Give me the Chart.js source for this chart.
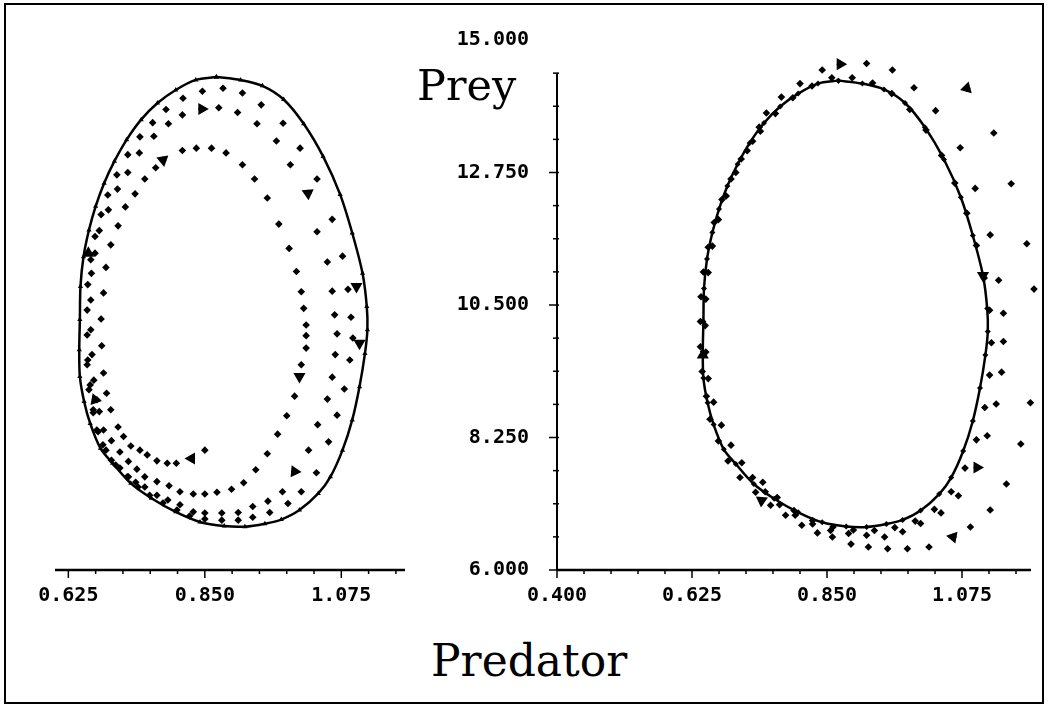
<!DOCTYPE html>
<html>
<head>
<meta charset="utf-8">
<title>Predator / Prey phase plane</title>
<script src="https://cdn.jsdelivr.net/npm/chart.js@4.4.1/dist/chart.umd.min.js"></script>
<style>
    html, body { margin: 0; padding: 0; background: #fff; }
    #page { position: relative; width: 1050px; height: 707px; overflow: hidden; background: #fff; }
    #frame { position: absolute; left: 4px; top: 3px; width: 1040px; height: 701px; border: 2px solid #000; box-sizing: border-box; }
    .panel { position: absolute; top: 0; height: 610px; }
    #leftPanel { left: 0; width: 420px; }
    #rightPanel { left: 420px; width: 630px; }
    .axisTitle { position: absolute; font-family: 'DejaVu Serif', serif; color: #000; line-height: 1; white-space: nowrap; }
    #preyTitle { left: 417px; top: 64px; font-size: 43px; }
    #predatorTitle { left: 431px; top: 639px; font-size: 44px; }
</style>
</head>
<body>
<div id="page">
    <div id="frame"></div>
    <div class="panel" id="leftPanel"><canvas id="leftChart"></canvas></div>
    <div class="panel" id="rightPanel"><canvas id="rightChart"></canvas></div>
    <div class="axisTitle" id="preyTitle">Prey</div>
    <div class="axisTitle" id="predatorTitle">Predator</div>
</div>
<script>
// ===== Tick labels =====

var leftPredatorMajor = [0.625, 0.850, 1.075];
var rightPredatorMajor = [0.400, 0.625, 0.850, 1.075];
var preyMajor = [6.000, 8.250, 10.500, 12.750, 15.000];
var predatorMinorStep = 0.045;
var preyMinorStep = 0.5625;
var preyAxisTop = 14.4375;

// ===== Limit cycle (solid line), clockwise from the top =====

var cycleX = [0.869, 0.909, 0.945, 0.980, 1.013, 1.045, 1.073, 1.093, 1.110, 1.117, 1.118, 1.114, 1.105, 1.093, 1.077,
    1.057, 1.037, 1.006, 0.976, 0.949, 0.916, 0.882, 0.842, 0.802, 0.762, 0.728, 0.698, 0.678, 0.661, 0.651,
    0.644, 0.643, 0.644, 0.645, 0.650, 0.659, 0.670, 0.684, 0.701, 0.721, 0.745, 0.772, 0.802, 0.835];
var cycleY = [14.31, 14.26, 14.16, 13.93, 13.52, 12.97, 12.33, 11.68, 11.00, 10.44, 10.05, 9.65, 9.09, 8.53, 8.02,
    7.57, 7.29, 7.01, 6.85, 6.78, 6.73, 6.74, 6.81, 6.98, 7.21, 7.46, 7.80, 8.05, 8.47, 8.84,
    9.26, 9.71, 10.22, 10.78, 11.28, 11.73, 12.13, 12.52, 12.89, 13.25, 13.59, 13.87, 14.09, 14.26];

// ===== Left plot: trajectory starting inside, spiralling out =====

var leftPathX = [0.850, 0.828, 0.803, 0.788, 0.771, 0.755, 0.743, 0.728, 0.716, 0.707, 0.695, 0.688, 0.683, 0.680, 0.679,
    0.683, 0.687, 0.695, 0.707, 0.719, 0.735, 0.751, 0.769, 0.781, 0.813, 0.836, 0.861, 0.885, 0.912, 0.932,
    0.953, 0.972, 0.989, 1.001, 1.009, 1.013, 1.017, 1.017, 1.017, 1.009, 1.006, 0.998, 0.985, 0.970, 0.953,
    0.934, 0.914, 0.894, 0.870, 0.850, 0.831, 0.809, 0.791, 0.771, 0.751, 0.738, 0.724, 0.710, 0.696, 0.683,
    0.676, 0.672, 0.667, 0.664, 0.662, 0.662, 0.663, 0.669, 0.676, 0.691, 0.706, 0.723, 0.742, 0.766, 0.790,
    0.813, 0.845, 0.873, 0.904, 0.936, 0.968, 0.991, 1.020, 1.035, 1.052, 1.060, 1.064, 1.068, 1.065, 1.060,
    1.052, 1.036, 1.021, 0.998, 0.978, 0.954, 0.929, 0.905, 0.878, 0.850, 0.831, 0.809, 0.789, 0.771, 0.751,
    0.736, 0.724, 0.710, 0.696, 0.682, 0.672, 0.666, 0.661, 0.657, 0.656, 0.656, 0.657, 0.662, 0.669, 0.679,
    0.690, 0.705, 0.723, 0.743, 0.764, 0.786, 0.814, 0.846, 0.880, 0.912, 0.943, 0.979, 1.007, 1.035, 1.060,
    1.077, 1.086, 1.091, 1.094, 1.089, 1.080, 1.068, 1.054, 1.034, 1.009, 0.987, 0.957, 0.929, 0.905, 0.878,
    0.850, 0.825, 0.804, 0.781, 0.759, 0.740, 0.722, 0.703, 0.687, 0.674, 0.666, 0.659, 0.656];
var leftPathY = [8.02, 7.88, 7.80, 7.80, 7.84, 7.94, 8.02, 8.09, 8.25, 8.41, 8.70, 8.98, 9.32, 9.78, 10.23,
    10.67, 11.10, 11.48, 11.80, 12.12, 12.34, 12.59, 12.78, 12.91, 13.07, 13.11, 13.11, 13.03, 12.83, 12.59,
    12.27, 11.83, 11.42, 11.03, 10.69, 10.41, 10.13, 9.95, 9.74, 9.46, 9.26, 8.93, 8.60, 8.29, 7.96,
    7.69, 7.47, 7.36, 7.31, 7.28, 7.28, 7.32, 7.42, 7.49, 7.57, 7.70, 7.83, 7.99, 8.18, 8.36,
    8.67, 8.87, 9.20, 9.63, 10.05, 10.55, 11.00, 11.34, 11.72, 12.07, 12.42, 12.70, 13.03, 13.31, 13.52,
    13.67, 13.77, 13.79, 13.71, 13.52, 13.23, 12.83, 12.35, 11.70, 11.19, 10.70, 10.30, 9.98, 9.63, 9.25,
    8.88, 8.45, 8.02, 7.66, 7.32, 7.16, 7.07, 6.97, 6.96, 6.96, 6.98, 7.10, 7.18, 7.26, 7.40,
    7.48, 7.57, 7.72, 7.85, 8.11, 8.36, 8.70, 9.12, 9.54, 9.96, 10.38, 10.81, 11.23, 11.62, 11.99,
    12.32, 12.66, 13.00, 13.30, 13.54, 13.76, 13.95, 14.07, 14.12, 14.04, 13.84, 13.53, 13.11, 12.59, 11.91,
    11.29, 10.73, 10.26, 9.91, 9.54, 9.05, 8.61, 8.16, 7.64, 7.32, 7.12, 6.97, 6.89, 6.84, 6.84,
    6.86, 6.91, 7.01, 7.13, 7.26, 7.40, 7.57, 7.77, 8.02, 8.33, 8.65, 9.04, 9.46];

var leftArrowX = [0.828, 0.781, 1.006, 0.845, 1.020, 0.998, 0.658, 0.669, 1.100, 1.105];
var leftArrowY = [7.88, 12.91, 9.26, 13.77, 12.35, 7.66, 11.34, 8.87, 10.78, 9.82];
var leftArrowAngle = [270, 50, 180, 90, 175, 215, 0, 340, 180, 180];

// ===== Right plot: trajectory starting outside, spiralling in =====

var rightPathX = [1.083, 1.128, 1.157, 1.183, 1.195, 1.201, 1.201, 1.189, 1.173, 1.149, 1.122, 1.089, 1.060, 1.020, 0.984,
    0.951, 0.919, 0.890, 0.859, 0.834, 0.808, 0.781, 0.756, 0.731, 0.705, 0.685, 0.669, 0.655, 0.649, 0.642,
    0.639, 0.639, 0.640, 0.644, 0.652, 0.662, 0.675, 0.690, 0.707, 0.726, 0.737, 0.749, 0.774, 0.805, 0.842,
    0.872, 0.916, 0.959, 0.995, 1.031, 1.072, 1.097, 1.122, 1.136, 1.144, 1.144, 1.141, 1.132, 1.117, 1.100,
    1.069, 1.040, 1.006, 0.976, 0.946, 0.916, 0.886, 0.856, 0.826, 0.797, 0.771, 0.747, 0.726,
    0.708, 0.690, 0.674, 0.661, 0.652, 0.648, 0.647, 0.648, 0.652, 0.659, 0.669, 0.682, 0.698, 0.717, 0.739,
    0.764, 0.793, 0.825, 0.858, 0.892, 0.926, 0.958, 0.988, 1.015, 1.041, 1.063, 1.083, 1.099, 1.112, 1.121,
    1.124, 1.121, 1.113, 1.099, 1.080, 1.057, 1.029, 0.997, 0.963, 0.929, 0.894, 0.860, 0.826, 0.795, 0.767, 0.743];
var rightPathY = [14.18, 13.42, 12.56, 11.54, 10.77, 10.08, 9.43, 8.84, 8.14, 7.46, 7.02, 6.73, 6.56, 6.39, 6.36,
    6.36, 6.39, 6.44, 6.56, 6.63, 6.76, 6.93, 7.10, 7.32, 7.57, 7.85, 8.19, 8.56, 8.95, 9.37,
    9.79, 10.22, 10.64, 11.06, 11.48, 11.90, 12.29, 12.64, 12.98, 13.28, 13.52, 13.76, 14.03, 14.26, 14.49,
    14.59, 14.60, 14.49, 14.19, 13.80, 13.17, 12.48, 11.69, 10.92, 10.36, 9.88, 9.36, 8.82, 8.28, 7.74,
    7.26, 6.97, 6.79, 6.65, 6.56, 6.59, 6.62, 6.67, 6.78, 6.93, 7.11, 7.33, 7.57,
    7.82, 8.12, 8.46, 8.85, 9.25, 9.70, 10.15, 10.60, 11.05, 11.50, 11.95, 12.35, 12.75, 13.12, 13.45,
    13.75, 14.02, 14.22, 14.36, 14.36, 14.27, 14.09, 13.82, 13.47, 13.04, 12.57, 12.06, 11.51, 10.96, 10.41,
    9.86, 9.31, 8.76, 8.21, 7.73, 7.33, 7.03, 6.83, 6.72, 6.67, 6.68, 6.73, 6.84, 7.01, 7.23, 7.49];

var rightArrowX = [1.083, 1.060, 0.872, 1.100, 1.110, 0.643, 0.741];
var rightArrowY = [14.18, 6.56, 14.59, 7.74, 11.00, 9.65, 7.18];
var rightArrowAngle = [135, 280, 90, 210, 180, 0, 305];

// ===== Helpers =====

function toPoints(xs, ys) {
    var out = [];
    for (var i = 0; i < xs.length; i++) out.push({ x: xs[i], y: ys[i] });
    return out;
}

function closedLoop(xs, ys) {
    var pts = toPoints(xs, ys);
    pts.push({ x: xs[0], y: ys[0] });
    return pts;
}

function tickValues(majors, step, lo, hi) {
    var out = [];
    var start = majors[0];
    while (start - step >= lo - 1e-9) start -= step;
    for (var v = start; v <= hi + 1e-9; v += step) out.push(Math.round(v * 10000) / 10000);
    return out;
}

function isMajor(v, majors) {
    for (var i = 0; i < majors.length; i++) {
        if (Math.abs(majors[i] - v) < 1e-6) return true;
    }
    return false;
}

// ===== Old-style axes: line + major/minor tick marks =====

var oldAxes = {
    id: 'oldAxes',
    afterDatasetsDraw: function(chart, args, opts) {
        var ctx = chart.ctx;
        var area = chart.chartArea;
        var xs = chart.scales.x;
        var ys = chart.scales.y;
        ctx.save();
        ctx.strokeStyle = '#000';

        ctx.lineWidth = 2.5;
        ctx.beginPath();
        ctx.moveTo(area.left, area.bottom);
        ctx.lineTo(area.right, area.bottom);
        ctx.stroke();

        ctx.lineWidth = 1.5;
        xs.ticks.forEach(function(t) {
            var px = xs.getPixelForValue(t.value);
            var len = isMajor(t.value, opts.xMajor) ? 8 : 4;
            ctx.beginPath();
            ctx.moveTo(px, area.bottom);
            ctx.lineTo(px, area.bottom + len);
            ctx.stroke();
        });

        if (opts.yAxis) {
            var top = ys.getPixelForValue(opts.yTop);
            ctx.lineWidth = 2;
            ctx.beginPath();
            ctx.moveTo(area.left, area.bottom);
            ctx.lineTo(area.left, top);
            ctx.stroke();
            ctx.lineWidth = 1.5;
            ys.ticks.forEach(function(t) {
                if (t.value > opts.yTop + 1e-6) return;
                var py = ys.getPixelForValue(t.value);
                var len = isMajor(t.value, opts.yMajor) ? 8 : 4;
                ctx.beginPath();
                ctx.moveTo(area.left - len, py);
                ctx.lineTo(area.left + 2, py);
                ctx.stroke();
            });
        }
        ctx.restore();
    }
};

Chart.defaults.font.family = "'DejaVu Sans Mono', monospace";
Chart.defaults.color = '#000';

var tickFont = { family: "'DejaVu Sans Mono', monospace", size: 20, weight: 'bold' };

function xScale(min, max, majors) {
    var vals = tickValues(majors, predatorMinorStep, min, max);
    return {
        type: 'linear',
        position: 'bottom',
        min: min,
        max: max,
        afterBuildTicks: function(s) { s.ticks = vals.map(function(v) { return { value: v }; }); },
        afterFit: function(s) { s.height = 40; },
        grid: { display: false, drawTicks: false },
        border: { display: false },
        ticks: {
            autoSkip: false,
            maxRotation: 0,
            minRotation: 0,
            padding: 14,
            color: '#000',
            font: tickFont,
            callback: function(v) { return isMajor(v, majors) ? v.toFixed(3) : ''; }
        }
    };
}

function yScale(show) {
    var vals = tickValues(preyMajor, preyMinorStep, 6, 15);
    var scale = {
        type: 'linear',
        display: show,
        min: 6,
        max: 15,
        afterBuildTicks: function(s) { s.ticks = vals.map(function(v) { return { value: v }; }); },
        grid: { display: false, drawTicks: false },
        border: { display: false },
        ticks: {
            autoSkip: false,
            padding: 28,
            color: '#000',
            font: tickFont,
            callback: function(v) { return isMajor(v, preyMajor) ? v.toFixed(3) : ''; }
        }
    };
    if (show) scale.afterFit = function(s) { s.width = 137; };
    return scale;
}

function phaseDatasets(pathX, pathY, arrowX, arrowY, arrowAngle, cycleMark) {
    return [
        {
            label: 'Limit cycle',
            data: closedLoop(cycleX, cycleY),
            showLine: true,
            borderColor: '#000',
            borderWidth: 2.5,
            tension: 0.3,
            pointStyle: cycleMark,
            pointRadius: 3,
            pointBackgroundColor: '#000',
            pointBorderWidth: 0,
            clip: false
        },
        {
            label: 'Trajectory',
            data: toPoints(pathX, pathY),
            showLine: false,
            pointStyle: 'rectRot',
            pointRadius: 3.8,
            pointBackgroundColor: '#000',
            pointBorderWidth: 0,
            clip: false
        },
        {
            label: 'Direction',
            data: toPoints(arrowX, arrowY),
            showLine: false,
            pointStyle: 'triangle',
            pointRadius: 7,
            rotation: arrowAngle,
            pointBackgroundColor: '#000',
            pointBorderWidth: 0,
            clip: false
        }
    ];
}

function baseOptions(xs, ys, padding, axesOpts) {
    return {
        responsive: true,
        maintainAspectRatio: false,
        devicePixelRatio: 1,
        animation: false,
        events: [],
        layout: { padding: padding },
        plugins: {
            legend: { display: false },
            tooltip: { enabled: false },
            oldAxes: axesOpts
        },
        scales: { x: xs, y: ys }
    };
}

// ===== Left: starts inside the cycle =====

new Chart(document.getElementById('leftChart'), {
    type: 'scatter',
    data: { datasets: phaseDatasets(leftPathX, leftPathY, leftArrowX, leftArrowY, leftArrowAngle, 'triangle') },
    options: baseOptions(
        xScale(0.603, 1.18, leftPredatorMajor),
        yScale(false),
        { left: 55, right: 15, top: 36, bottom: 0 },
        { xMajor: leftPredatorMajor, yAxis: false }
    ),
    plugins: [oldAxes]
});

// ===== Right: starts outside the cycle =====

new Chart(document.getElementById('rightChart'), {
    type: 'scatter',
    data: { datasets: phaseDatasets(rightPathX, rightPathY, rightArrowX, rightArrowY, rightArrowAngle, 'rectRot') },
    options: baseOptions(
        xScale(0.4, 1.19, rightPredatorMajor),
        yScale(true),
        { left: 0, right: 19, top: 36, bottom: 0 },
        { xMajor: rightPredatorMajor, yAxis: true, yMajor: preyMajor, yTop: preyAxisTop }
    ),
    plugins: [oldAxes]
});
</script>
</body>
</html>
